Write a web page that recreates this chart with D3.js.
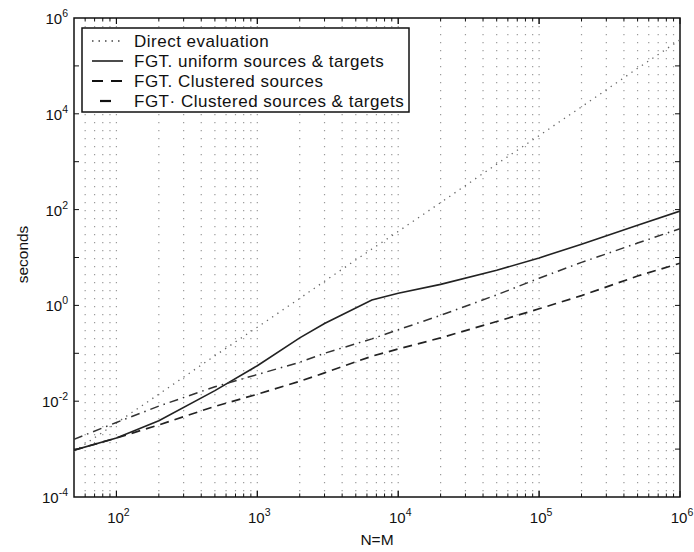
<!DOCTYPE html>
<html lang="en">
<head>
    <meta charset="UTF-8" />
    <title>FGT timing</title>
    <style>
        body {
            margin: 0;
            background-color: #fff;
            font-family: "Liberation Sans", Arial, sans-serif;
        }
        svg text {
            fill: #111;
        }
    </style>
    <script src="https://d3js.org/d3.v7.min.js"></script>
</head>
<body>
<svg id="chart" width="694" height="552"></svg>

<script>
    // problem sizes N=M
    const sizes = [50, 100, 200, 500, 1000, 2000, 3000, 6500, 1e4, 2e4, 5e4, 1e5, 2e5, 5e5, 1e6];

    // seconds
    const direct = [8.9e-4, 3.5e-3, 0.014, 0.089, 0.35, 1.4, 3.2, 15, 35, 140, 890, 3500, 1.4e4, 8.9e4, 3.5e5];
    const fgtUniform = [9.5e-4, 1.7e-3, 3.9e-3, 0.0166, 0.055, 0.21, 0.42, 1.3, 1.8, 2.75, 5.4, 9.8, 19, 47, 93];
    const fgtClusteredSources = [9.5e-4, 1.7e-3, 3.2e-3, 7.8e-3, 0.014, 0.026, 0.039, 0.087, 0.123, 0.21, 0.46, 0.85, 1.6, 4.1, 7.6];
    const fgtClusteredBoth = [1.6e-3, 3.6e-3, 7.9e-3, 0.020, 0.036, 0.065, 0.10, 0.20, 0.31, 0.62, 1.66, 3.7, 7.9, 20, 40];

    const seriesNames = [
        "Direct evaluation",
        "FGT. uniform sources & targets",
        "FGT. Clustered sources",
        "FGT\u00b7 Clustered sources & targets"
    ];
    const xTickExps = [2, 3, 4, 5, 6];
    const yTickExps = [-4, -2, 0, 2, 4, 6];

    const svg = d3.select("#chart");
    const box = { left: 74, right: 680, top: 18, bottom: 497 };

    const x = d3.scaleLog().domain([50, 1e6]).range([box.left, box.right]);
    const y = d3.scaleLog().domain([1e-4, 1e6]).range([box.bottom, box.top]);

    // grid: dotted verticals at every x tick (major + minor)
    const xGridVals = [];
    for (let e = 1; e <= 5; e++) {
        for (let m = 1; m <= 9; m++) {
            const v = m * Math.pow(10, e);
            if (v > 50 && v < 1e6) xGridVals.push(v);
        }
    }
    svg.append("g")
        .selectAll("line")
        .data(xGridVals)
        .enter()
        .append("line")
        .attr("x1", d => x(d))
        .attr("x2", d => x(d))
        .attr("y1", box.top)
        .attr("y2", box.bottom)
        .attr("stroke", "#9a9a9a")
        .attr("stroke-width", 1.2)
        .attr("stroke-dasharray", "1.2,6.8");

    // ticks inside the box
    const ticks = svg.append("g").attr("stroke", "#111");
    xGridVals.concat(xTickExps.map(e => Math.pow(10, e))).forEach(v => {
        const major = Number.isInteger(Math.log10(v));
        const len = major ? 6 : 3.5;
        ticks.append("line").attr("x1", x(v)).attr("x2", x(v)).attr("y1", box.bottom).attr("y2", box.bottom - len);
        ticks.append("line").attr("x1", x(v)).attr("x2", x(v)).attr("y1", box.top).attr("y2", box.top + len);
    });
    d3.range(-3, 6).forEach(e => {
        const v = Math.pow(10, e);
        ticks.append("line").attr("x1", box.left).attr("x2", box.left + 5).attr("y1", y(v)).attr("y2", y(v));
        ticks.append("line").attr("x1", box.right).attr("x2", box.right - 5).attr("y1", y(v)).attr("y2", y(v));
    });

    // frame
    svg.append("rect")
        .attr("x", box.left)
        .attr("y", box.top)
        .attr("width", box.right - box.left)
        .attr("height", box.bottom - box.top)
        .attr("fill", "none")
        .attr("stroke", "#111")
        .attr("stroke-width", 1.5);

    // tick labels, 10 with superscript
    function powerLabel(g, px, py, exp, anchor) {
        const t = g.append("text")
            .attr("x", px)
            .attr("y", py)
            .attr("text-anchor", anchor)
            .attr("font-size", "15px");
        t.append("tspan").text("10");
        t.append("tspan").attr("dy", -7).attr("font-size", "10.5px").text(exp);
    }
    const labels = svg.append("g");
    xTickExps.forEach(e => powerLabel(labels, x(Math.pow(10, e)) + 2, 523, e, "middle"));
    yTickExps.forEach(e => powerLabel(labels, box.left - 6, y(Math.pow(10, e)) + 6, e, "end"));

    svg.append("text")
        .attr("x", (box.left + box.right) / 2)
        .attr("y", 545)
        .attr("text-anchor", "middle")
        .attr("font-size", "15.5px")
        .text("N=M");

    svg.append("text")
        .attr("transform", `translate(28,${(box.top + box.bottom) / 2 - 3}) rotate(-90)`)
        .attr("text-anchor", "middle")
        .attr("font-size", "15.5px")
        .text("seconds");

    // curves
    const styles = [
        { dash: "1.3,5", width: 1.3, color: "#666" },
        { dash: null, width: 1.6, color: "#222" },
        { dash: "9,6", width: 1.7, color: "#222" },
        { dash: "9,5,1.5,5", width: 1.5, color: "#333" }
    ];
    const allSeries = [direct, fgtUniform, fgtClusteredSources, fgtClusteredBoth];

    const line = d3.line()
        .x(d => x(d[0]))
        .y(d => y(d[1]));

    svg.append("defs").append("clipPath").attr("id", "plot")
        .append("rect").attr("x", box.left).attr("y", box.top)
        .attr("width", box.right - box.left).attr("height", box.bottom - box.top);

    const curves = svg.append("g").attr("clip-path", "url(#plot)");
    allSeries.forEach((vals, i) => {
        curves.append("path")
            .datum(sizes.map((n, j) => [n, vals[j]]))
            .attr("d", line)
            .attr("fill", "none")
            .attr("stroke", styles[i].color)
            .attr("stroke-width", styles[i].width)
            .attr("stroke-dasharray", styles[i].dash);
    });

    // legend
    const legend = svg.append("g");
    legend.append("rect")
        .attr("x", 82)
        .attr("y", 28)
        .attr("width", 327)
        .attr("height", 84)
        .attr("fill", "#fff")
        .attr("stroke", "#111")
        .attr("stroke-width", 1.5);

    const sampleX = [[92, 120], [92, 123], [92, 124], [100, 111]];
    seriesNames.forEach((name, i) => {
        const rowY = 47 + i * 20;
        legend.append("line")
            .attr("x1", sampleX[i][0])
            .attr("x2", sampleX[i][1])
            .attr("y1", rowY - 6)
            .attr("y2", rowY - 6)
            .attr("stroke", i === 0 ? "#444" : "#111")
            .attr("stroke-width", i >= 2 ? 2.2 : 1.5)
            .attr("stroke-dasharray", i === 0 ? "1.5,5" : i === 2 ? "11,8" : null);
        legend.append("text")
            .attr("x", 134)
            .attr("y", rowY)
            .attr("font-size", "17px")
            .attr("letter-spacing", "0.5px")
            .text(name);
    });
</script>
</body>
</html>
